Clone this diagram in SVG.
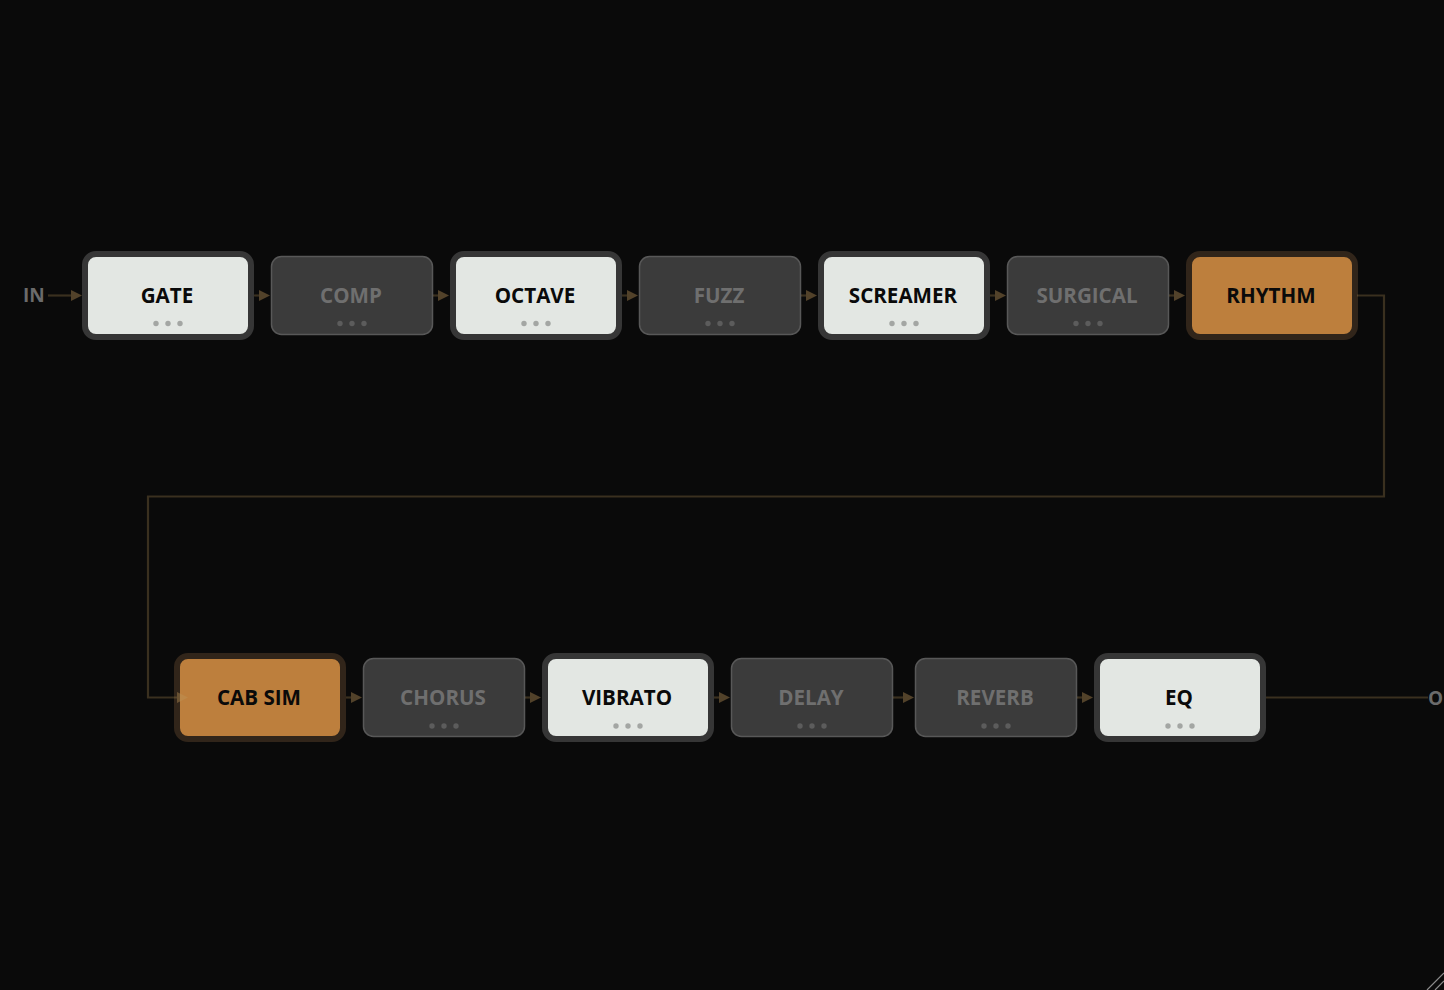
<svg xmlns="http://www.w3.org/2000/svg" width="1444" height="990" viewBox="0 0 1444 990">
<defs>
<style>
.bg{fill:#0a0a0a}
.lbl{font-family:"Open Sans","Noto Sans","DejaVu Sans",sans-serif;font-weight:700;font-size:20.6px;text-anchor:middle}
.io{font-family:"Open Sans","Noto Sans","DejaVu Sans",sans-serif;font-weight:700;font-size:19px;fill:#6b6b6b}
.on rect{fill:#e3e7e3;stroke:#363636;stroke-width:6}
.on text{fill:#0a0a0a}
.on circle{fill:#a3a6a3}
.off rect{fill:#3b3b3b;stroke:#585858;stroke-width:1.5}
.off text{fill:#6f6f6f}
.off circle{fill:#5c5c5c}
.hot rect{fill:#bd7f3d;stroke:#31251a;stroke-width:6}
.hot text{fill:#0a0a0a}
.wire{fill:none;stroke:rgb(190,150,90);stroke-opacity:0.27;stroke-width:2.2}
</style>
<marker id="ah" markerUnits="userSpaceOnUse" markerWidth="11" markerHeight="12" refX="0" refY="6" orient="auto">
<path d="M0,0.5 L11,6 L0,11.5 Z" fill="rgb(190,150,90)" fill-opacity="0.4"/>
</marker>
</defs>
<rect class="bg" x="0" y="0" width="1444" height="990"/>

<g id="node-gate" class="on"><rect x="85" y="254" width="166" height="83" rx="11"/><text class="lbl" x="167" y="302.5">GATE</text><circle cx="156" cy="323.5" r="2.7"/><circle cx="168" cy="323.5" r="2.7"/><circle cx="180" cy="323.5" r="2.7"/></g>
<g id="node-comp" class="off"><rect x="271.5" y="256.5" width="161" height="78" rx="10"/><text class="lbl" x="351" y="302.5">COMP</text><circle cx="340" cy="323.5" r="2.7"/><circle cx="352" cy="323.5" r="2.7"/><circle cx="364" cy="323.5" r="2.7"/></g>
<g id="node-octave" class="on"><rect x="453" y="254" width="166" height="83" rx="11"/><text class="lbl" x="535" y="302.5">OCTAVE</text><circle cx="524" cy="323.5" r="2.7"/><circle cx="536" cy="323.5" r="2.7"/><circle cx="548" cy="323.5" r="2.7"/></g>
<g id="node-fuzz" class="off"><rect x="639.5" y="256.5" width="161" height="78" rx="10"/><text class="lbl" x="719" y="302.5">FUZZ</text><circle cx="708" cy="323.5" r="2.7"/><circle cx="720" cy="323.5" r="2.7"/><circle cx="732" cy="323.5" r="2.7"/></g>
<g id="node-screamer" class="on"><rect x="821" y="254" width="166" height="83" rx="11"/><text class="lbl" x="903" y="302.5">SCREAMER</text><circle cx="892" cy="323.5" r="2.7"/><circle cx="904" cy="323.5" r="2.7"/><circle cx="916" cy="323.5" r="2.7"/></g>
<g id="node-surgical" class="off"><rect x="1007.5" y="256.5" width="161" height="78" rx="10"/><text class="lbl" x="1087" y="302.5">SURGICAL</text><circle cx="1076" cy="323.5" r="2.7"/><circle cx="1088" cy="323.5" r="2.7"/><circle cx="1100" cy="323.5" r="2.7"/></g>
<g id="node-rhythm" class="hot"><rect x="1189" y="254" width="166" height="83" rx="11"/><text class="lbl" x="1271" y="302.5">RHYTHM</text></g>

<g id="node-cabsim" class="hot"><rect x="177" y="656" width="166" height="83" rx="11"/><text class="lbl" x="259" y="705">CAB SIM</text></g>
<g id="node-chorus" class="off"><rect x="363.5" y="658.5" width="161" height="78" rx="10"/><text class="lbl" x="443" y="705">CHORUS</text><circle cx="432" cy="726" r="2.7"/><circle cx="444" cy="726" r="2.7"/><circle cx="456" cy="726" r="2.7"/></g>
<g id="node-vibrato" class="on"><rect x="545" y="656" width="166" height="83" rx="11"/><text class="lbl" x="627" y="705">VIBRATO</text><circle cx="616" cy="726" r="2.7"/><circle cx="628" cy="726" r="2.7"/><circle cx="640" cy="726" r="2.7"/></g>
<g id="node-delay" class="off"><rect x="731.5" y="658.5" width="161" height="78" rx="10"/><text class="lbl" x="811" y="705">DELAY</text><circle cx="800" cy="726" r="2.7"/><circle cx="812" cy="726" r="2.7"/><circle cx="824" cy="726" r="2.7"/></g>
<g id="node-reverb" class="off"><rect x="915.5" y="658.5" width="161" height="78" rx="10"/><text class="lbl" x="995" y="705">REVERB</text><circle cx="984" cy="726" r="2.7"/><circle cx="996" cy="726" r="2.7"/><circle cx="1008" cy="726" r="2.7"/></g>
<g id="node-eq" class="on"><rect x="1097" y="656" width="166" height="83" rx="11"/><text class="lbl" x="1179" y="705">EQ</text><circle cx="1168" cy="726" r="2.7"/><circle cx="1180" cy="726" r="2.7"/><circle cx="1192" cy="726" r="2.7"/></g>

<g id="io-labels">
<text class="io" x="23" y="302">IN</text>
<text class="io" x="1428" y="705">OUT</text>
</g>

<g id="connectors">
<path class="wire" d="M48,295.5 H71" marker-end="url(#ah)"/>
<path class="wire" d="M254,295.5 H259" marker-end="url(#ah)"/>
<path class="wire" d="M433,295.5 H438" marker-end="url(#ah)"/>
<path class="wire" d="M622,295.5 H627" marker-end="url(#ah)"/>
<path class="wire" d="M801,295.5 H806" marker-end="url(#ah)"/>
<path class="wire" d="M990,295.5 H995" marker-end="url(#ah)"/>
<path class="wire" d="M1169,295.5 H1174" marker-end="url(#ah)"/>
<path class="wire" d="M1357,295.5 H1384 V496.5 H148 V697.5 H177" marker-end="url(#ah)"/>
<path class="wire" d="M346,697.5 H351" marker-end="url(#ah)"/>
<path class="wire" d="M525,697.5 H530" marker-end="url(#ah)"/>
<path class="wire" d="M714,697.5 H719" marker-end="url(#ah)"/>
<path class="wire" d="M893,697.5 H903" marker-end="url(#ah)"/>
<path class="wire" d="M1077,697.5 H1082" marker-end="url(#ah)"/>
<path class="wire" d="M1266,697.5 H1428"/>
</g>

<g id="resize-grip" stroke="#8c8c8c" stroke-width="1.2">
<line x1="1427" y1="990" x2="1444" y2="973"/>
<line x1="1435" y1="990" x2="1444" y2="981"/>
</g>
</svg>
